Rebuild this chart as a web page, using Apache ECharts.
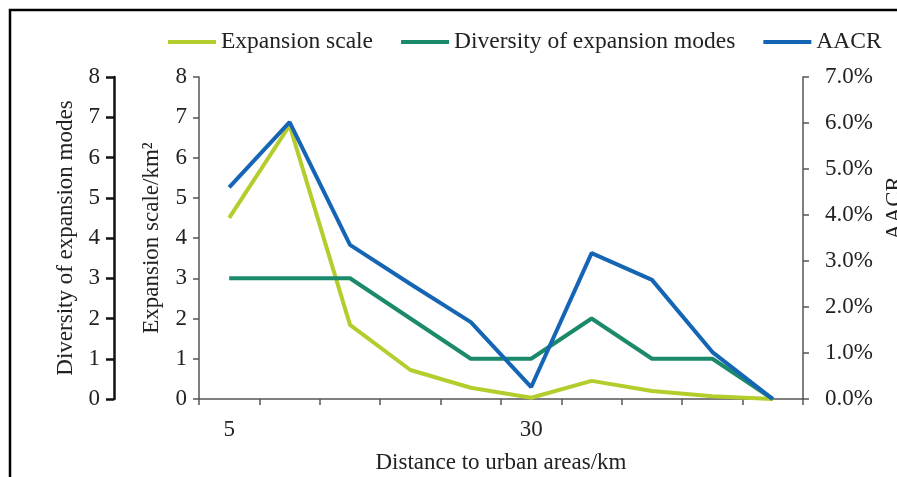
<!DOCTYPE html>
<html>
<head>
<meta charset="utf-8">
<script src="https://cdn.jsdelivr.net/npm/echarts@6/dist/echarts.min.js"></script>
<style>
  html, body { margin: 0; padding: 0; background: #fff; }
  #chart { width: 897px; height: 477px; }
</style>
</head>
<body>
<div id="chart"></div>
<script>
// distance rings (km)
const distances = ['5', '10', '15', '20', '25', '30', '35', '40', '45', '50'];
// km²
const expansionScale = [4.5, 6.8, 1.84, 0.72, 0.28, 0.03, 0.45, 0.2, 0.07, 0];
const diversity = [3, 3, 3, 2, 1, 1, 2, 1, 1, 0];
// AACR in %
const aacr = [4.6, 6.02, 3.35, 2.5, 1.67, 0.26, 3.17, 2.59, 1.02, 0];

const font = 'Liberation Serif';
const labelStyle = { color: '#222', fontFamily: font, fontSize: 23 };

var myChart = echarts.init(document.getElementById('chart'));
var option = {
  backgroundColor: '#fff',
  animation: false,
  graphic: [{
    type: 'rect',
    shape: { x: 10, y: 10, width: 900, height: 480 },
    style: { fill: 'none', stroke: '#000', lineWidth: 2.5 }
  }],
  legend: {
    top: 25,
    left: 163,
    icon: 'rect',
    itemWidth: 48,
    itemHeight: 4,
    itemGap: 28,
    textStyle: { color: '#222', fontFamily: font, fontSize: 23.5 },
    data: ['Expansion scale', 'Diversity of expansion modes', 'AACR']
  },
  grid: { left: 199, right: 94, top: 77, bottom: 78, outerBoundsMode: 'none' },
  xAxis: {
    type: 'category',
    data: distances,
    boundaryGap: true,
    name: 'Distance to urban areas/km',
    nameLocation: 'middle',
    nameGap: 52,
    nameTextStyle: labelStyle,
    axisLine: { lineStyle: { color: '#555', width: 1.5 } },
    axisTick: { show: true, interval: 0, length: 6, inside: false, lineStyle: { color: '#555', width: 1.5 } },
    axisLabel: Object.assign({ interval: 4, margin: 19 }, labelStyle),
    splitLine: { show: false }
  },
  yAxis: [
    {
      type: 'value',
      position: 'left',
      min: 0, max: 8, interval: 1,
      name: 'Expansion scale/km²',
      nameLocation: 'middle',
      nameRotate: 90,
      nameGap: 36,
      nameTextStyle: labelStyle,
      axisLine: { show: true, lineStyle: { color: '#555', width: 1.5 } },
      axisTick: { show: true, length: 6, lineStyle: { color: '#555', width: 1.5 } },
      axisLabel: Object.assign({ margin: 12 }, labelStyle),
      splitLine: { show: false }
    },
    {
      type: 'value',
      position: 'left',
      offset: 85,
      min: 0, max: 8, interval: 1,
      name: 'Diversity of expansion modes',
      nameLocation: 'middle',
      nameRotate: 90,
      nameGap: 33,
      nameTextStyle: labelStyle,
      axisLine: { show: true, lineStyle: { color: '#111', width: 2.5 } },
      axisTick: { show: true, length: 8, lineStyle: { color: '#111', width: 2.5 } },
      axisLabel: Object.assign({ margin: 14 }, labelStyle),
      splitLine: { show: false }
    },
    {
      type: 'value',
      position: 'right',
      min: 0, max: 7, interval: 1,
      name: 'AACR',
      nameLocation: 'middle',
      nameRotate: 90,
      nameGap: 77,
      nameTextStyle: Object.assign({ padding: [0, 0, 0, 60] }, labelStyle),
      axisLine: { show: true, lineStyle: { color: '#555', width: 1.5 } },
      axisTick: { show: true, length: 6, lineStyle: { color: '#555', width: 1.5 } },
      axisLabel: Object.assign({ margin: 22, formatter: v => v.toFixed(1) + '%' }, labelStyle),
      splitLine: { show: false }
    }
  ],
  series: [
    {
      name: 'Expansion scale',
      type: 'line',
      yAxisIndex: 0,
      data: expansionScale,
      symbol: 'none',
      color: '#b5cd2c',
      lineStyle: { width: 4 }
    },
    {
      name: 'Diversity of expansion modes',
      type: 'line',
      yAxisIndex: 1,
      data: diversity,
      symbol: 'none',
      color: '#1a8a6a',
      lineStyle: { width: 4 }
    },
    {
      name: 'AACR',
      type: 'line',
      yAxisIndex: 2,
      data: aacr,
      symbol: 'none',
      color: '#1565b5',
      lineStyle: { width: 4 }
    }
  ]
};
option && myChart.setOption(option);
</script>
</body>
</html>
